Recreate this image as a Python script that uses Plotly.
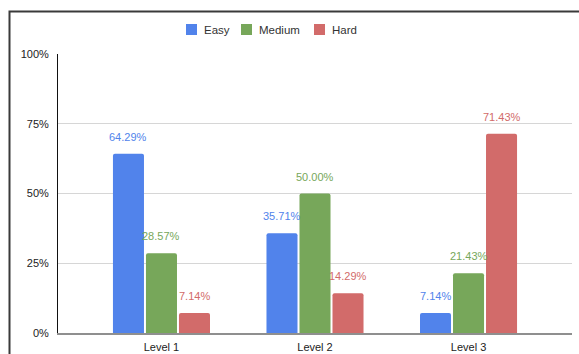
import plotly.graph_objects as go

# Share of answers per difficulty at each level (percent)
levels = ["Level 1", "Level 2", "Level 3"]
series_names = ["Easy", "Medium", "Hard"]
easy = [64.29, 35.71, 7.14]
medium = [28.57, 50.00, 21.43]
hard = [7.14, 14.29, 71.43]
y_ticks = [0, 25, 50, 75, 100]
y_tick_text = [f"{v}%" for v in y_ticks]

colors = ["#5183EB", "#77A75A", "#D26B6A"]
values = [easy, medium, hard]
FONT = "Liberation Sans, Arial, sans-serif"

W, H = 579, 354
margin = dict(l=58, r=7, t=54, b=21)
plot_w = W - margin["l"] - margin["r"]
plot_h = H - margin["t"] - margin["b"]


def px(x):
    """Horizontal pixel position -> paper coordinate."""
    return (x - margin["l"]) / plot_w


def py(y):
    """Vertical pixel position (from top) -> paper coordinate."""
    return (H - margin["b"] - y) / plot_h


bargap = 0.355
bargroupgap = 0.06

fig = go.Figure()
for name, vals, col in zip(series_names, values, colors):
    fig.add_trace(go.Bar(
        x=levels, y=vals, name=name,
        marker=dict(color=col, cornerradius=2, line=dict(width=0)),
        hoverinfo="skip", showlegend=False,
    ))

# value labels above each bar, centred on the bar's slot
slot = (1 - bargap) / len(series_names)
annotations = []
for k, (vals, col) in enumerate(zip(values, colors)):
    for i, v in enumerate(vals):
        annotations.append(dict(
            x=i + (k - (len(series_names) - 1) / 2) * slot, y=v,
            xref="x", yref="y", text=f"{v:.2f}%", showarrow=False,
            yanchor="middle", yshift=17,
            font=dict(color=col, size=11, family=FONT),
        ))

# outer frame drawn along the top and left edges
shapes = [dict(
    type="path", xref="paper", yref="paper",
    path=f"M {px(9.5)},{py(360)} L {px(9.5)},{py(11.5)} L {px(590)},{py(11.5)}",
    line=dict(color="#3a3a3a", width=2),
)]

# compact legend row: colour square followed by the series name
legend_x = [186, 241, 314]
for name, col, lx in zip(series_names, colors, legend_x):
    shapes.append(dict(
        type="rect", xref="paper", yref="paper",
        x0=px(lx), x1=px(lx + 11), y0=py(35), y1=py(24),
        fillcolor=col, line=dict(width=0),
    ))
    annotations.append(dict(
        x=px(lx + 16), y=py(29.5), xref="paper", yref="paper",
        text=name, showarrow=False, xanchor="left", yanchor="middle",
        font=dict(size=11.5, color="#333333", family=FONT),
    ))

fig.update_layout(
    template="none",
    width=W, height=H,
    margin=margin,
    paper_bgcolor="white", plot_bgcolor="white",
    barmode="group", bargap=bargap, bargroupgap=bargroupgap,
    font=dict(family=FONT, size=11, color="#333333"),
    showlegend=False,
    xaxis=dict(
        range=[-0.674, 2.674], showgrid=False, showline=True,
        linecolor="#8f8f8f", linewidth=2, ticks="", fixedrange=True,
        automargin=False, ticklabelstandoff=3,
        tickfont=dict(size=11, color="#222222"),
    ),
    yaxis=dict(
        range=[0, 100], tickvals=y_ticks, ticktext=y_tick_text,
        showgrid=True, gridcolor="#d6d6d6", gridwidth=1,
        zeroline=False, showline=True, linecolor="#111111", linewidth=1,
        ticks="", automargin=False, ticklabelstandoff=6,
        tickfont=dict(size=11, color="#222222"),
    ),
    annotations=annotations,
    shapes=shapes,
)

fig.write_html("out.html")
